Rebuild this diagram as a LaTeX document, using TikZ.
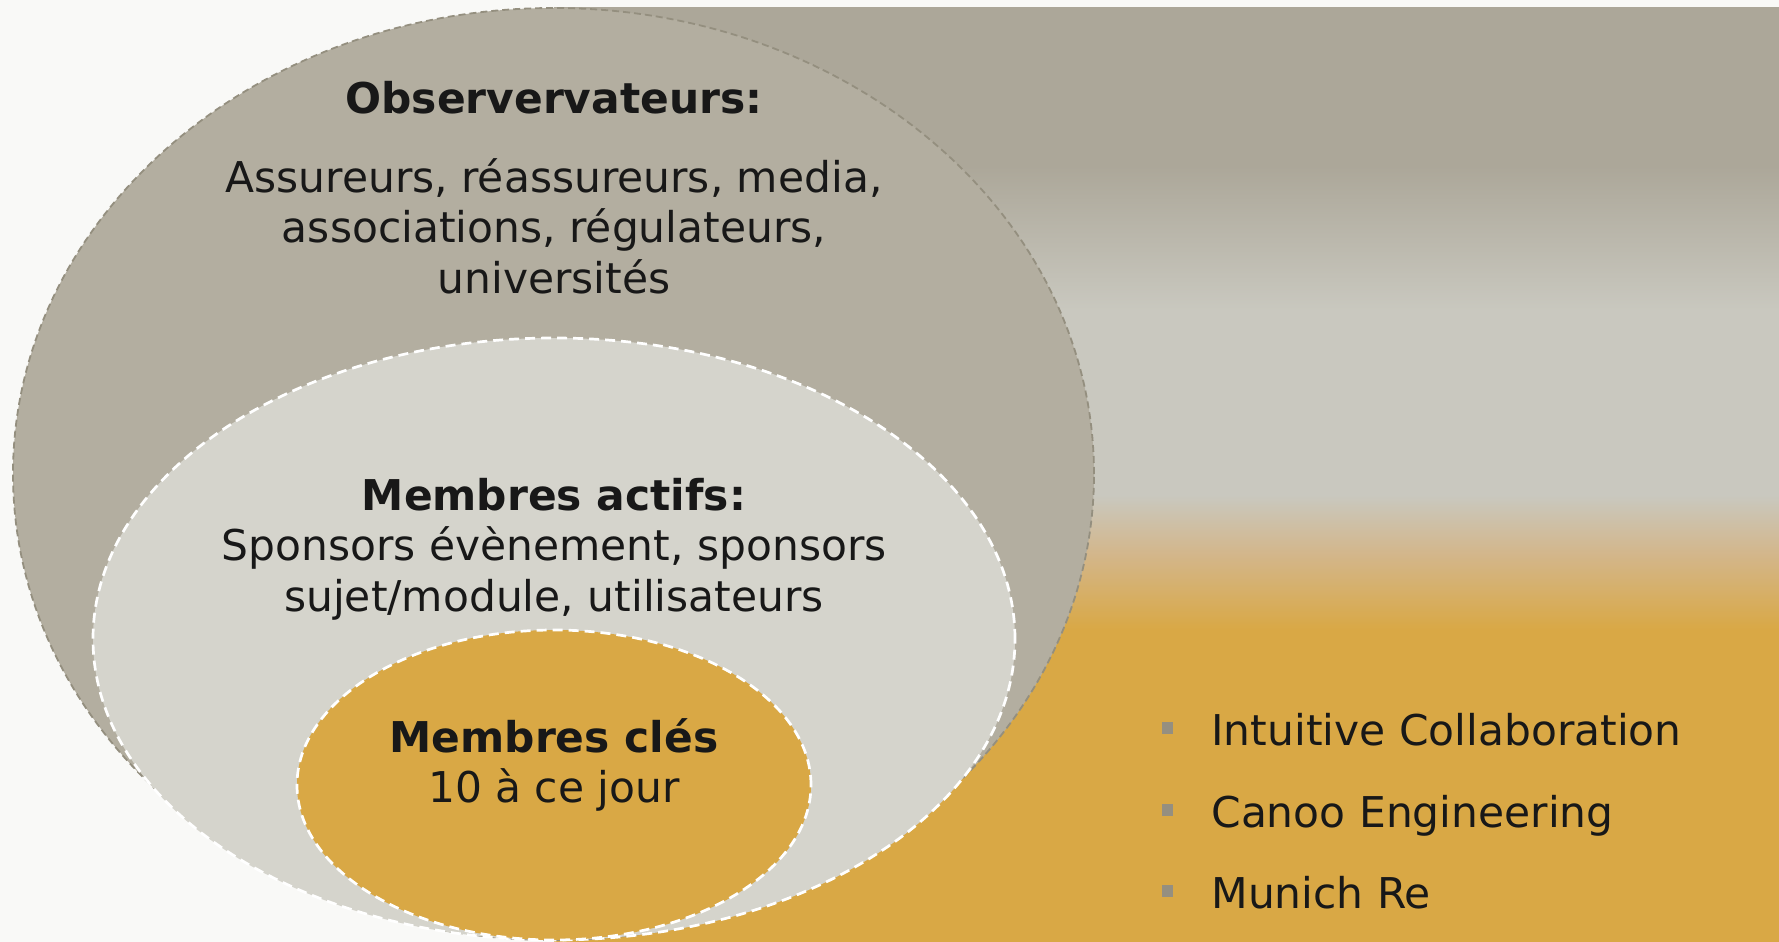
\documentclass[tikz,border=0pt]{standalone}
\usepackage{fontspec}
\setmainfont{DejaVu Sans}
\usetikzlibrary{shapes.geometric}

\definecolor{pagebg}{HTML}{F9F9F7}
\definecolor{taupe}{HTML}{ACA799}
\definecolor{palegray}{HTML}{C9C8BF}
\definecolor{warmmid}{HTML}{D3B68A}
\definecolor{goldfill}{HTML}{D9A845}
\definecolor{outerfill}{HTML}{B3AEA0}
\definecolor{middlefill}{HTML}{D5D4CC}
\definecolor{outerline}{HTML}{948F7F}
\definecolor{bulletgray}{HTML}{958F80}
\definecolor{inktext}{HTML}{181818}

% vertical fade of the backdrop: gold at the bottom, pale band, taupe on top
\pgfdeclareverticalshading{bandfade}{100bp}{%
  color(0bp)=(goldfill); color(25bp)=(goldfill); color(41.7bp)=(goldfill);
  color(45.7bp)=(warmmid); color(48.9bp)=(palegray); color(58.8bp)=(palegray);
  color(66.5bp)=(taupe); color(75bp)=(taupe); color(100bp)=(taupe)}

\begin{document}
\begin{tikzpicture}[x=0.5pt,y=-0.5pt,
  txt/.style={anchor=base, inner sep=0pt, text=inktext,
    font=\fontsize{21.2pt}{25.3pt}\selectfont},
  head/.style={txt, font=\fontsize{21.2pt}{25.3pt}\selectfont\bfseries},
  item/.style={txt, anchor=base west},
  bullet/.style={fill=bulletgray, minimum width=5.5pt, minimum height=6pt,
    inner sep=0pt, draw=none},
  ring/.style={ellipse, inner sep=0pt, outer sep=0pt},
  outerring/.style={ring, fill=outerfill, draw=outerline, line width=0.9pt,
    dash pattern=on 3.5pt off 2pt},
  innerring/.style={ring, draw=white, line width=1.35pt,
    dash pattern=on 5pt off 3pt}]

\useasboundingbox (0,0) rectangle (1779,942);
\fill[pagebg] (0,0) rectangle (1779,942);
\shade[shading=bandfade] (554,7) rectangle (1779,942);

% nested member circles
\node[outerring, minimum width=540.5pt, minimum height=466pt] (obsring) at (553.5,474) {};
\node[innerring, fill=middlefill, minimum width=461pt, minimum height=301pt] (actring) at (554,639) {};
\node[innerring, fill=goldfill, minimum width=257pt, minimum height=155pt] (keyring) at (554,785) {};

% observers
\node[head] (obshead) at (554,113) {Observervateurs:};
\node[txt] (obs1) at (554,192) {Assureurs, réassureurs, media,};
\node[txt] (obs2) at (554,242) {associations, régulateurs,};
\node[txt] (obs3) at (554,293) {universités};

% active members
\node[head] (acthead) at (554,510) {Membres actifs:};
\node[txt] (act1) at (554,560) {Sponsors évènement, sponsors};
\node[txt] (act2) at (554,611) {sujet/module, utilisateurs};

% key members
\node[head] (keyhead) at (554,752) {Membres clés};
\node[txt] (key1) at (554,802) {10 à ce jour};

% list of key members
\node[bullet] (b1) at (1167,728) {};
\node[bullet] (b2) at (1167,810) {};
\node[bullet] (b3) at (1167,891) {};
\node[item] (m1) at (1211,745) {Intuitive Collaboration};
\node[item] (m2) at (1211,827) {Canoo Engineering};
\node[item] (m3) at (1211,908) {Munich Re};
\end{tikzpicture}
\end{document}
